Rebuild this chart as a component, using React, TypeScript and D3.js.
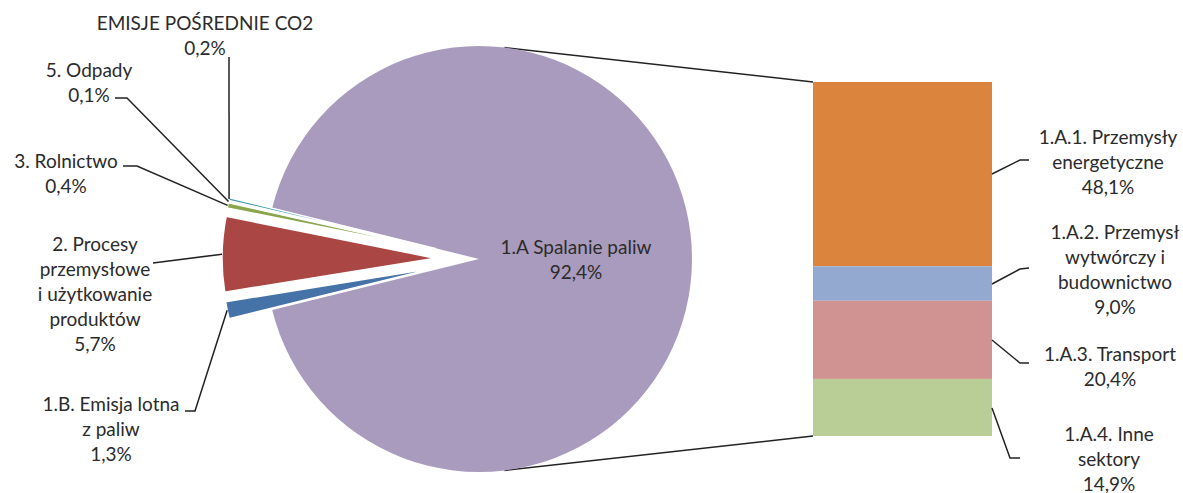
import React from "react";
import * as d3 from "d3";

// ---- data ----
const otherLabel = ["1.A Spalanie paliw", "92,4%"];
const otherValue = 92.4;

const pieNames = [
  ["1.B. Emisja lotna", "z paliw", "1,3%"],
  ["2. Procesy", "przemysłowe", "i użytkowanie", "produktów", "5,7%"],
  ["3. Rolnictwo", "0,4%"],
  ["5. Odpady", "0,1%"],
  ["EMISJE POŚREDNIE CO2", "0,2%"],
];
const pieValues = [1.3, 5.7, 0.4, 0.1, 0.2];
const pieColors = ["#4572A7", "#AA4643", "#89A54E", "#71588F", "#4198AF"];
const otherColor = "#A99BBD";

const barNames = [
  ["1.A.1. Przemysły", "energetyczne", "48,1%"],
  ["1.A.2. Przemysł", "wytwórczy i", "budownictwo", "9,0%"],
  ["1.A.3. Transport", "20,4%"],
  ["1.A.4. Inne", "sektory", "14,9%"],
];
const barValues = [48.1, 9.0, 20.4, 14.9];
const barColors = ["#DB843D", "#93A9CF", "#D19392", "#B9CD96"];

// ---- layout ----
const W = 1183;
const H = 493;
const cx = 479;
const cy = 259;
const R = 213;
const explode = 44;
const barX0 = 813;
const barX1 = 992;
const barY0 = 82;
const barY1 = 436;
const FONT = "Lato, 'Open Sans', sans-serif";
const FS = 19;
const LH = 25;
const TXT = "#2b2b2b";

// label placement: center x, first-line center y, leader path (label side points)
const pieLabelLayout = [
  { x: 111, y: 403, lead: [[185, 411], [195, 411]] },
  { x: 95, y: 243, lead: [[153, 263]] },
  { x: 66, y: 160, lead: [[123, 166], [137, 166]] },
  { x: 89, y: 69, lead: [[115, 98], [127, 98]] },
  { x: 205, y: 22, lead: [[229, 57]] },
];
const barLabelLayout = [
  { x: 1108, y: 136, lead: [[1029, 160], [1020, 160]] },
  { x: 1115, y: 231, lead: [[1029, 268], [1020, 269]] },
  { x: 1110, y: 353, lead: [[1029, 363], [1020, 363]] },
  { x: 1109, y: 433, lead: [[1020, 458], [1010, 458]] },
];
const barLeadY = [174, 284, 340, 408];

function Lines({ x, y, lines }: { x: number; y: number; lines: string[] }) {
  return (
    <text x={x} y={y} textAnchor="middle" fontFamily={FONT} fontSize={FS} fill={TXT}>
      {lines.map((l, i) => (
        <tspan key={i} x={x} y={y + i * LH} dominantBaseline="central">
          {l}
        </tspan>
      ))}
    </text>
  );
}

export default function App() {
  const allValues = [otherValue, ...pieValues];
  const total = d3.sum(allValues);
  const otherSpan = (otherValue / total) * 2 * Math.PI;
  const start = Math.PI / 2 - otherSpan / 2;
  const arcs = d3
    .pie<number>()
    .sort(null)
    .value((d) => d)
    .startAngle(start)
    .endAngle(start + 2 * Math.PI)(allValues);
  const arcGen = d3.arc<d3.PieArcDatum<number>>().innerRadius(0).outerRadius(R);

  const yScale = d3.scaleLinear().domain([0, d3.sum(barValues)]).range([barY0, barY1]);
  const cum = d3.cumsum(barValues);

  const pt = (a: number, r: number, ox = cx, oy = cy) => [ox + r * Math.sin(a), oy - r * Math.cos(a)];

  const otherArc = arcs[0];
  const botPt = pt(Math.PI - 0.12, R);
  const topPt = pt(0.12, R);

  return (
    <svg
      width={W}
      height={H}
      style={{ position: "absolute", left: 0, top: 0, display: "block", background: "#fff" }}
    >
      {/* connectors to bar */}
      <line x1={topPt[0]} y1={topPt[1]} x2={barX0} y2={barY0} stroke="#222" strokeWidth={1.5} />
      <line x1={botPt[0]} y1={botPt[1]} x2={barX0} y2={barY1} stroke="#222" strokeWidth={1.5} />

      {/* pie */}
      <path d={arcGen(otherArc) || ""} transform={`translate(${cx},${cy})`} fill={otherColor} />
      {arcs.slice(1).map((a, i) => {
        const mid = (a.startAngle + a.endAngle) / 2;
        const ox = cx + explode * Math.sin(mid);
        const oy = cy - explode * Math.cos(mid);
        return (
          <path
            key={i}
            d={arcGen(a) || ""}
            transform={`translate(${ox},${oy})`}
            fill={pieColors[i]}
            stroke="#fff"
            strokeWidth={1.5}
          />
        );
      })}

      {/* pie leaders */}
      {arcs.slice(1).map((a, i) => {
        const mid = (a.startAngle + a.endAngle) / 2;
        const ox = cx + explode * Math.sin(mid);
        const oy = cy - explode * Math.cos(mid);
        const end = pt(mid, R, ox, oy);
        const pts = [...pieLabelLayout[i].lead, end];
        return (
          <polyline
            key={i}
            points={pts.map((p) => p.join(",")).join(" ")}
            fill="none"
            stroke="#222"
            strokeWidth={1.5}
          />
        );
      })}

      {/* bar */}
      {barValues.map((v, i) => {
        const y0 = yScale(cum[i] - v);
        const y1 = yScale(cum[i]);
        return <rect key={i} x={barX0} y={y0} width={barX1 - barX0} height={y1 - y0} fill={barColors[i]} />;
      })}

      {/* bar leaders */}
      {barLabelLayout.map((l, i) => {
        const pts = [[barX1, barLeadY[i]], ...l.lead.slice().reverse()];
        return (
          <polyline
            key={i}
            points={pts.map((p) => p.join(",")).join(" ")}
            fill="none"
            stroke="#222"
            strokeWidth={1.5}
          />
        );
      })}

      {/* labels */}
      <Lines x={576} y={246.5} lines={otherLabel} />
      {pieNames.map((n, i) => (
        <Lines key={i} x={pieLabelLayout[i].x} y={pieLabelLayout[i].y} lines={n} />
      ))}
      {barNames.map((n, i) => (
        <Lines key={i} x={barLabelLayout[i].x} y={barLabelLayout[i].y} lines={n} />
      ))}
    </svg>
  );
}
